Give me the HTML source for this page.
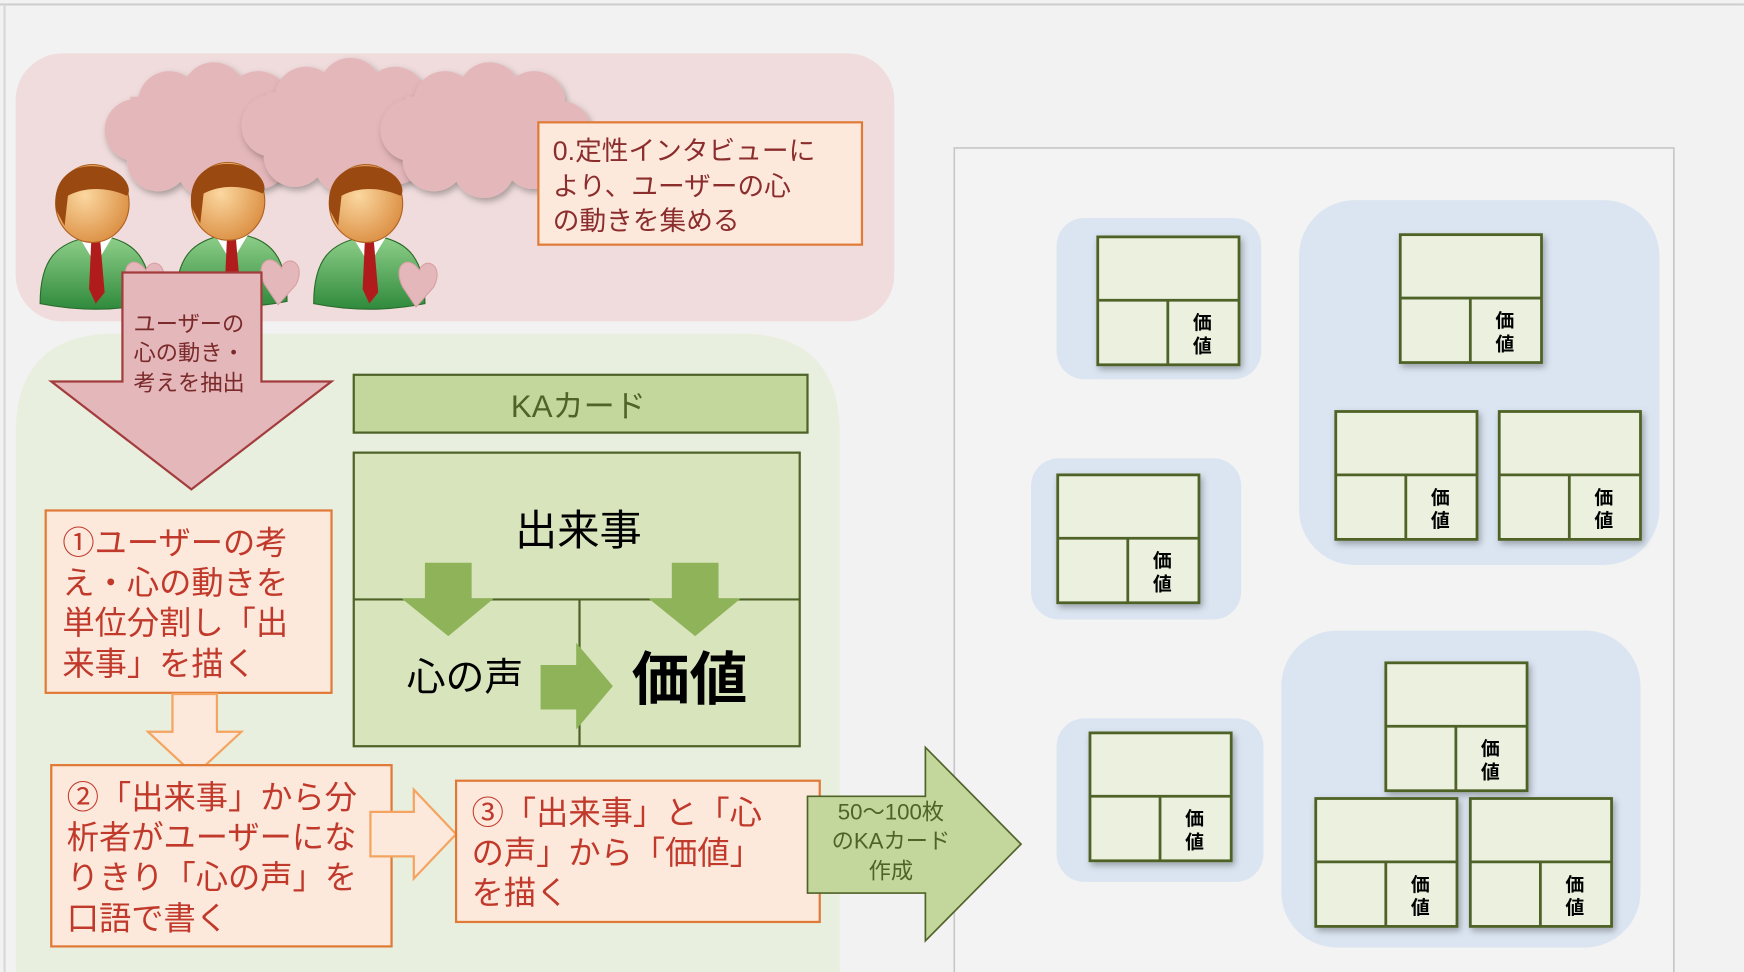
<!DOCTYPE html>
<html><head><meta charset="utf-8"><style>
html,body{margin:0;padding:0;background:#f2f2f2;width:1744px;height:972px;overflow:hidden;}
svg{display:block}
text{font-family:"Liberation Sans","Noto Sans CJK JP",sans-serif;}
</style></head><body>
<svg width="1744" height="972" viewBox="0 0 1568 874" xmlns="http://www.w3.org/2000/svg">
<defs>
<filter id="sh" x="-20%" y="-20%" width="140%" height="140%"><feDropShadow dx="2" dy="3" stdDeviation="3" flood-color="#000" flood-opacity="0.3"/></filter>
<radialGradient id="face" cx="0.4" cy="0.4" r="0.7"><stop offset="0" stop-color="#fbd7a0"/><stop offset="1" stop-color="#d98a3c"/></radialGradient>
<linearGradient id="suit" x1="0" y1="0" x2="0" y2="1"><stop offset="0" stop-color="#8fcf8a"/><stop offset="1" stop-color="#2f8a3c"/></linearGradient>
<g id="card">
<rect x="0" y="0" width="127" height="115" fill="#ebf1de" stroke="#4f6228" stroke-width="2.5" filter="url(#sh)"/>
<line x1="0" y1="57" x2="127" y2="57" stroke="#4f6228" stroke-width="2.5"/>
<line x1="63" y1="57" x2="63" y2="115" stroke="#4f6228" stroke-width="2.5"/>
<text x="94" y="83" font-size="17" font-weight="bold" text-anchor="middle" fill="#000">価</text>
<text x="94" y="104" font-size="17" font-weight="bold" text-anchor="middle" fill="#000">値</text>
</g>
<g id="person">
<path d="M0,125 C0,85 15,70 45,65 L60,65 C85,70 100,85 100,125 Q50,135 0,125Z" fill="url(#suit)" stroke="#2a6a2a"/>
<path d="M35,65 L50,90 L65,65Z" fill="#fff"/>
<path d="M46,68 L54,68 L58,115 L50,125 L44,112Z" fill="#b01c1c"/>
<ellipse cx="47" cy="35" rx="33" ry="35" fill="url(#face)" stroke="#b06020"/>
<path d="M14,40 C10,5 40,-5 65,5 C80,12 82,25 78,28 C60,20 40,20 25,28 L22,55 Z" fill="#9a4a10"/>
<path d="M95,95 C85,80 70,90 80,110 L92,128 L108,110 C118,90 100,82 95,95Z" fill="#e4b7ba" stroke="#d9a0a5"/>
</g>
<g id="cloud" fill="#e4b7ba" filter="url(#sh)">
<circle cx="30" cy="55" r="28"/><circle cx="60" cy="30" r="28"/><circle cx="100" cy="22" r="28"/><circle cx="140" cy="30" r="28"/><circle cx="165" cy="55" r="26"/><circle cx="140" cy="80" r="28"/><circle cx="95" cy="88" r="28"/><circle cx="50" cy="82" r="28"/><rect x="25" y="25" width="140" height="60"/>
</g>
</defs>
<rect width="1568" height="874" fill="#f2f2f2"/>
<line x1="0" y1="4" x2="1568" y2="4" stroke="#cfcfcf" stroke-width="2"/>
<line x1="4" y1="4" x2="4" y2="874" stroke="#d8d8d8" stroke-width="2"/>

<!-- right panel -->
<path d="M858,874 L858,133 L1505,133 L1505,874" fill="#f3f3f3" stroke="#c8c8c8" stroke-width="1.5"/>
<rect x="950" y="196" width="184" height="145" rx="25" fill="#dbe5f1"/>
<rect x="1168" y="180" width="324" height="328" rx="50" fill="#dbe5f1"/>
<rect x="927" y="412" width="189" height="145" rx="25" fill="#dbe5f1"/>
<rect x="950" y="646" width="186" height="147" rx="25" fill="#dbe5f1"/>
<rect x="1152" y="567" width="323" height="285" rx="50" fill="#dbe5f1"/>
<use href="#card" x="987" y="213"/>
<use href="#card" x="1259" y="211"/>
<use href="#card" x="1201" y="370"/>
<use href="#card" x="1348" y="370"/>
<use href="#card" x="951" y="427"/>
<use href="#card" x="980" y="659"/>
<use href="#card" x="1246" y="596"/>
<use href="#card" x="1183" y="718"/>
<use href="#card" x="1322" y="718"/>

<!-- pink region -->
<rect x="14" y="48" width="790" height="241" rx="42" fill="#f0dcdc"/>
<use href="#cloud" x="92" y="62"/>
<use href="#cloud" x="215" y="58"/>
<use href="#cloud" x="340" y="62"/>
<use href="#person" x="36" y="148"/>
<use href="#person" x="158" y="146"/>
<use href="#person" x="282" y="148"/>
<rect x="484" y="110" width="291" height="110" fill="#fde9dc" stroke="#e07a36" stroke-width="2"/>
<g font-size="24" fill="#8b2d2d"><text x="497" y="144">0.定性インタビューに</text><text x="497" y="176">より、ユーザーの心</text><text x="497" y="207">の動きを集める</text></g>

<!-- green region -->
<path d="M14,874 L14,390 Q14,300 104,300 L665,300 Q755,300 755,390 L755,874Z" fill="#e9efdf"/>
<path d="M110,245 L235,245 L235,343 L298,343 L172,440 L46,343 L110,343Z" fill="#e4b7ba" stroke="#a33c3c" stroke-width="2"/>
<g font-size="20" fill="#7a2a2a"><text x="120" y="298">ユーザーの</text><text x="120" y="324">心の動き・</text><text x="120" y="351">考えを抽出</text></g>

<rect x="318" y="337" width="408" height="52" fill="#c3d69b" stroke="#4f6228" stroke-width="2"/>
<text x="520" y="375" font-size="28" fill="#4f6228" text-anchor="middle">KAカード</text>
<rect x="318" y="407" width="401" height="264" fill="#d7e4bc" stroke="#4f6228" stroke-width="2"/>
<line x1="318" y1="539" x2="719" y2="539" stroke="#4f6228" stroke-width="2"/>
<line x1="521" y1="539" x2="521" y2="671" stroke="#4f6228" stroke-width="2"/>
<text x="520" y="490" font-size="38" text-anchor="middle" fill="#000">出来事</text>
<path d="M382,506 L424,506 L424,538 L444,538 L403,572 L361,538 L382,538Z" fill="#8fb358"/>
<path d="M604,506 L646,506 L646,538 L666,538 L625,572 L583,538 L604,538Z" fill="#8fb358"/>
<text x="418" y="621" font-size="35" text-anchor="middle" fill="#000">心の声</text>
<path d="M486,598 L518,598 L518,578 L551,617 L518,656 L518,638 L486,638Z" fill="#8fb358"/>
<text x="620" y="629" font-size="52" font-weight="bold" text-anchor="middle" fill="#000">価値</text>

<rect x="41" y="459" width="257" height="164" fill="#fde9dc" stroke="#e07a36" stroke-width="2"/>
<g font-size="29" fill="#c0392b"><text x="56" y="498">①ユーザーの考</text><text x="56" y="534">え・心の動きを</text><text x="56" y="570">単位分割し「出</text><text x="56" y="607">来事」を描く</text></g>
<path d="M155,624 L195,624 L195,658 L217,658 L175,697 L133,658 L155,658Z" fill="#fde9dc" stroke="#f4a460" stroke-width="2"/>
<rect x="46" y="688" width="306" height="163" fill="#fde9dc" stroke="#e07a36" stroke-width="2"/>
<g font-size="29" fill="#c0392b"><text x="60" y="727">②「出来事」から分</text><text x="60" y="763">析者がユーザーにな</text><text x="60" y="799">りきり「心の声」を</text><text x="60" y="836">口語で書く</text></g>
<path d="M333,730 L372,730 L372,710 L410,750 L372,790 L372,770 L333,770Z" fill="#fde9dc" stroke="#f4a460" stroke-width="2"/>
<rect x="410" y="702" width="327" height="127" fill="#fde9dc" stroke="#e07a36" stroke-width="2"/>
<g font-size="29" fill="#c0392b"><text x="424" y="741">③「出来事」と「心</text><text x="424" y="777">の声」から「価値」</text><text x="424" y="813">を描く</text></g>

<path d="M726,716 L832,716 L832,672 L918,759 L832,846 L832,803 L726,803Z" fill="#c3d69b" stroke="#4f6228" stroke-width="1.5"/>
<g font-size="20" fill="#4f6228" text-anchor="middle"><text x="801" y="737">50〜100枚</text><text x="801" y="763">のKAカード</text><text x="801" y="790">作成</text></g>
</svg>
</body></html>
